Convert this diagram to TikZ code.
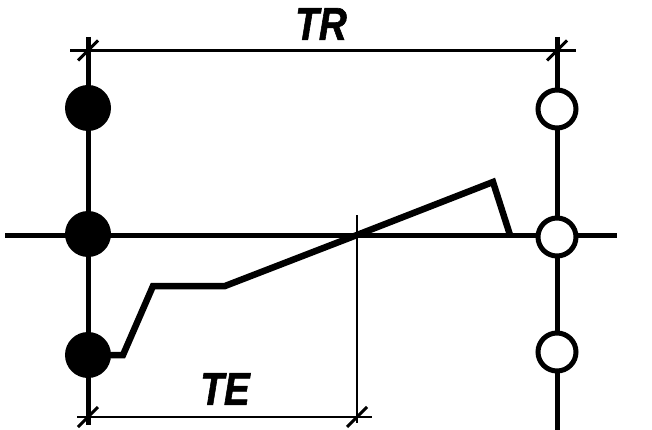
\documentclass[tikz,border=0pt]{standalone}
\usepackage{fontspec}
\setmainfont{Liberation Sans}
\newfontfamily\heavyfont[FakeBold=1.5]{Liberation Sans Bold Italic}
\usetikzlibrary{calc}
\tikzset{
  full/.style={circle, fill=black, minimum size=46pt, inner sep=0pt},
  hollow/.style={circle, draw=black, fill=white, line width=5pt, minimum size=38pt, inner sep=0pt},
  axis/.style={line width=5pt},
  dimline/.style={line width=2.6pt},
  dimtick/.style={line width=3pt},
  wave/.style={line width=6.5pt, line join=miter},
  bigtext/.style={font=\heavyfont\fontsize{46}{46}\selectfont, xscale=0.84, inner sep=0pt}
}

\begin{document}
\begin{tikzpicture}[x=1pt,y=-1pt]
\useasboundingbox (0,0) rectangle (652,430);
% supports
\coordinate (Ltop) at (88,37);
\coordinate (Lbot) at (88,425);
\coordinate (Rtop) at (557,37);
\coordinate (Rbot) at (557,430);
\coordinate (Aleft) at (5,235);
\coordinate (Aright) at (617,235);
\draw[axis] (Ltop) -- (Lbot);
\draw[axis] (Rtop) -- (Rbot);
\draw[axis] (Aleft) -- (Aright);
% dimension TR
\coordinate (TRa) at (70,50.5);
\coordinate (TRb) at (576,50.5);
\draw[dimline] (TRa) -- (TRb);
\draw[dimtick] ($(88,50.5)+(-10,10)$) -- ($(88,50.5)+(10,-10)$);
\draw[dimtick] ($(557,50.5)+(-10,10)$) -- ($(557,50.5)+(10,-10)$);
\node[bigtext] (tr) at (321,24) {TR};
% dimension TE
\coordinate (Cross) at (357,235);
\coordinate (Cbot) at (357,423);
\draw[dimline] (357,215) -- (Cbot);
\coordinate (TEa) at (77,417);
\coordinate (TEb) at (372,417);
\draw[dimline] (TEa) -- (TEb);
\draw[dimtick] ($(88,417)+(-10,10)$) -- ($(88,417)+(10,-10)$);
\draw[dimtick] ($(357,417)+(-10,10)$) -- ($(357,417)+(10,-10)$);
\node[bigtext] (te) at (225,389) {TE};
% wave
\coordinate (w1) at (110,355);
\coordinate (w2) at (123,355);
\coordinate (w3) at (153,286);
\coordinate (w4) at (225,286);
\coordinate (w5) at (493,182);
\coordinate (w6) at (510,235);
\draw[wave] (w1) -- (w2) -- (w3) -- (w4) -- (Cross) -- (w5) -- (w6);
% circles
\node[full] (l1) at (88,108) {};
\node[full] (l2) at (88,234) {};
\node[full] (l3) at (88,355) {};
\node[hollow] (r1) at (557,109) {};
\node[hollow] (r2) at (557,237) {};
\node[hollow] (r3) at (557,352) {};
\end{tikzpicture}
\end{document}
